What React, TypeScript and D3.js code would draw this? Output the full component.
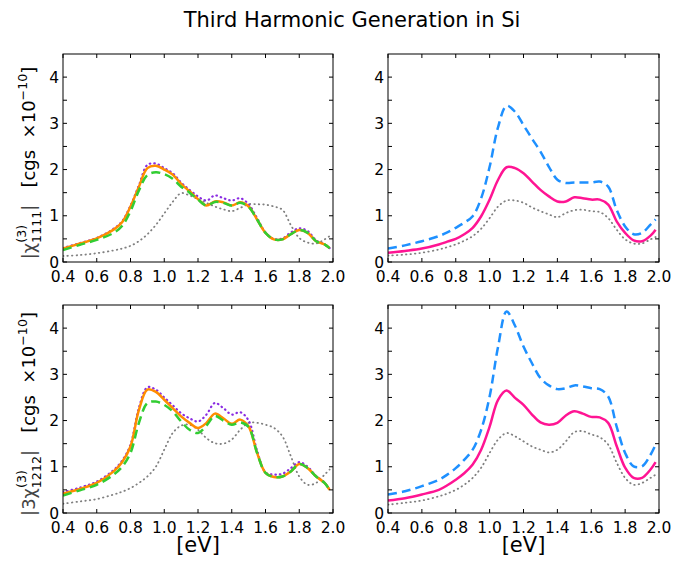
import React from "react";
import * as d3 from "d3";

const W = 688;
const H = 561;

// photon energy grid [eV]
const energy = [0.4, 0.5, 0.6, 0.7, 0.75, 0.8, 0.85, 0.9, 0.95, 1.0, 1.05, 1.1, 1.15, 1.2, 1.25, 1.3, 1.35, 1.4, 1.45, 1.5, 1.55, 1.6, 1.65, 1.7, 1.75, 1.8, 1.85, 1.9, 1.95, 1.98];

// |chi1111| (left top)
const xxxxPurple = [0.3, 0.41, 0.52, 0.72, 0.88, 1.22, 1.66, 2.1, 2.13, 2.03, 1.92, 1.72, 1.56, 1.42, 1.33, 1.44, 1.38, 1.33, 1.38, 1.25, 0.95, 0.64, 0.5, 0.51, 0.64, 0.73, 0.67, 0.47, 0.38, 0.3];
const xxxxOrange = [0.29, 0.4, 0.51, 0.7, 0.86, 1.2, 1.63, 2.03, 2.08, 2.0, 1.89, 1.69, 1.53, 1.36, 1.22, 1.31, 1.29, 1.22, 1.29, 1.2, 0.92, 0.63, 0.49, 0.49, 0.6, 0.69, 0.63, 0.45, 0.38, 0.3];
const xxxxGreen = [0.26, 0.37, 0.48, 0.63, 0.78, 1.1, 1.55, 1.88, 1.94, 1.9, 1.8, 1.63, 1.5, 1.35, 1.22, 1.3, 1.28, 1.22, 1.28, 1.19, 0.92, 0.63, 0.49, 0.49, 0.6, 0.69, 0.63, 0.45, 0.38, 0.3];
const xxxxGray = [0.13, 0.15, 0.19, 0.25, 0.29, 0.35, 0.45, 0.6, 0.8, 1.05, 1.3, 1.49, 1.44, 1.36, 1.28, 1.2, 1.14, 1.1, 1.17, 1.25, 1.25, 1.24, 1.2, 1.13, 0.8, 0.52, 0.42, 0.4, 0.49, 0.56];

// |chi1111| (right top)
const xxxxBlue = [0.29, 0.36, 0.45, 0.56, 0.64, 0.74, 0.85, 0.99, 1.38, 2.06, 2.92, 3.38, 3.25, 2.96, 2.67, 2.39, 2.06, 1.78, 1.71, 1.72, 1.72, 1.72, 1.74, 1.63, 1.13, 0.77, 0.6, 0.63, 0.81, 0.92];
const xxxxPink = [0.2, 0.24, 0.29, 0.38, 0.44, 0.5, 0.6, 0.74, 0.99, 1.35, 1.78, 2.05, 2.03, 1.92, 1.74, 1.56, 1.42, 1.31, 1.31, 1.4, 1.38, 1.35, 1.35, 1.24, 0.88, 0.63, 0.47, 0.45, 0.57, 0.7];
const xxxxGrayR = [0.14, 0.16, 0.2, 0.27, 0.32, 0.38, 0.46, 0.56, 0.72, 0.95, 1.2, 1.33, 1.33, 1.28, 1.18, 1.1, 1.03, 0.97, 1.06, 1.12, 1.13, 1.1, 1.08, 0.95, 0.7, 0.49, 0.4, 0.4, 0.49, 0.54];

// |3chi1212| (left bottom)
const xyxyPurple = [0.45, 0.55, 0.68, 0.93, 1.13, 1.48, 2.28, 2.72, 2.67, 2.5, 2.33, 2.16, 2.05, 1.98, 2.13, 2.38, 2.27, 2.13, 2.18, 2.0, 1.35, 0.88, 0.83, 0.85, 0.97, 1.1, 1.0, 0.8, 0.66, 0.5];
const xyxyOrange = [0.42, 0.52, 0.65, 0.9, 1.1, 1.44, 2.23, 2.67, 2.62, 2.45, 2.27, 2.09, 1.95, 1.84, 1.95, 2.15, 2.05, 1.93, 2.02, 1.87, 1.3, 0.87, 0.78, 0.79, 0.9, 1.06, 0.97, 0.79, 0.65, 0.5];
const xyxyGreen = [0.38, 0.49, 0.61, 0.83, 1.0, 1.3, 1.95, 2.38, 2.41, 2.34, 2.2, 1.98, 1.8, 1.73, 1.89, 2.1, 2.0, 1.91, 1.96, 1.86, 1.3, 0.87, 0.78, 0.79, 0.9, 1.06, 0.97, 0.79, 0.65, 0.5];
const xyxyGray = [0.2, 0.25, 0.3, 0.4, 0.46, 0.54, 0.65, 0.79, 1.0, 1.37, 1.73, 1.89, 1.91, 1.8, 1.62, 1.51, 1.5, 1.59, 1.8, 1.95, 1.95, 1.91, 1.84, 1.66, 1.23, 0.79, 0.61, 0.65, 0.83, 0.94];

// |3chi1212| (right bottom)
const xyxyBlue = [0.4, 0.47, 0.58, 0.72, 0.83, 0.97, 1.15, 1.37, 1.8, 2.52, 3.6, 4.36, 4.05, 3.6, 3.24, 2.92, 2.76, 2.68, 2.7, 2.76, 2.74, 2.7, 2.68, 2.52, 1.87, 1.3, 1.01, 1.01, 1.26, 1.48];
const xyxyPink = [0.27, 0.32, 0.4, 0.5, 0.6, 0.72, 0.86, 1.05, 1.37, 1.87, 2.45, 2.65, 2.49, 2.34, 2.13, 1.96, 1.91, 1.95, 2.11, 2.2, 2.15, 2.08, 2.07, 1.95, 1.45, 0.98, 0.76, 0.76, 0.94, 1.1];
const xyxyGrayR = [0.18, 0.22, 0.27, 0.36, 0.42, 0.5, 0.61, 0.76, 0.98, 1.3, 1.59, 1.73, 1.66, 1.55, 1.44, 1.37, 1.31, 1.37, 1.55, 1.75, 1.77, 1.7, 1.64, 1.48, 1.09, 0.76, 0.61, 0.65, 0.76, 0.83];

const xTicks = [0.4, 0.6, 0.8, 1.0, 1.2, 1.4, 1.6, 1.8, 2.0];
const yTicks = [0, 0.5, 1, 1.5, 2, 2.5, 3, 3.5, 4];

const FONT = "DejaVu Sans, sans-serif";

const STYLES = {
  purple: { color: "#8a2be2", width: 2.2, dash: "0.5,4", cap: "round" },
  orange: { color: "#ff8c00", width: 2.5, dash: null, cap: "butt" },
  green: { color: "#32cd32", width: 2.5, dash: "9,5", cap: "butt" },
  gray: { color: "#808080", width: 1.8, dash: "0.5,4", cap: "round" },
  blue: { color: "#1e90ff", width: 2.5, dash: "9,5", cap: "butt" },
  pink: { color: "#ff1493", width: 2.5, dash: null, cap: "butt" },
};

const panels = [
  { left: 63, top: 54, right: 333, bottom: 262, series: [["gray", xxxxGray], ["purple", xxxxPurple], ["orange", xxxxOrange], ["green", xxxxGreen]], ylab: "1111", pre: "", xlab: false },
  { left: 388, top: 54, right: 659, bottom: 262, series: [["gray", xxxxGrayR], ["blue", xxxxBlue], ["pink", xxxxPink]], ylab: null, pre: "", xlab: false },
  { left: 63, top: 305, right: 333, bottom: 513, series: [["gray", xyxyGray], ["purple", xyxyPurple], ["orange", xyxyOrange], ["green", xyxyGreen]], ylab: "1212", pre: "3", xlab: true },
  { left: 388, top: 305, right: 659, bottom: 513, series: [["gray", xyxyGrayR], ["blue", xyxyBlue], ["pink", xyxyPink]], ylab: null, pre: "", xlab: true },
];

const Panel = ({ p, idx }) => {
  const x = d3.scaleLinear().domain([0.4, 2.0]).range([p.left, p.right]);
  const y = d3.scaleLinear().domain([0, 4.5]).range([p.bottom, p.top]);
  const line = d3
    .line()
    .x((d) => x(d[0]))
    .y((d) => y(d[1]))
    .curve(d3.curveCatmullRom.alpha(0.5));
  const cx = (p.left + p.right) / 2;
  const cy = (p.top + p.bottom) / 2;
  return (
    <g>
      <defs>
        <clipPath id={`clip-${idx}`}>
          <rect x={p.left} y={p.top} width={p.right - p.left} height={p.bottom - p.top} />
        </clipPath>
      </defs>
      <g clipPath={`url(#clip-${idx})`}>
        {p.series.map(([key, vals], i) => {
          const s = STYLES[key];
          return (
            <path
              key={i}
              d={line(energy.map((e, j) => [e, vals[j]]))}
              fill="none"
              stroke={s.color}
              strokeWidth={s.width}
              strokeDasharray={s.dash || undefined}
              strokeLinecap={s.cap}
              strokeLinejoin="round"
            />
          );
        })}
      </g>
      <rect x={p.left} y={p.top} width={p.right - p.left} height={p.bottom - p.top} fill="none" stroke="#000" strokeWidth={1} />
      {xTicks.map((t) => (
        <g key={"x" + t}>
          <line x1={x(t)} x2={x(t)} y1={p.bottom} y2={p.bottom - 4} stroke="#000" />
          <line x1={x(t)} x2={x(t)} y1={p.top} y2={p.top + 4} stroke="#000" />
          <text x={x(t)} y={p.bottom + 20} textAnchor="middle" fontSize={15.5} fontFamily={FONT}>
            {t.toFixed(1)}
          </text>
        </g>
      ))}
      {yTicks.map((t) => (
        <g key={"y" + t}>
          <line x1={p.left} x2={p.left + 4} y1={y(t)} y2={y(t)} stroke="#000" />
          <line x1={p.right} x2={p.right - 4} y1={y(t)} y2={y(t)} stroke="#000" />
          {Number.isInteger(t) && (
            <text x={p.left - 4} y={y(t) + 5.5} textAnchor="end" fontSize={15.5} fontFamily={FONT}>
              {t}
            </text>
          )}
        </g>
      ))}
      {p.ylab && (
        <text
          transform={`translate(${35},${cy + 5}) rotate(-90)`}
          textAnchor="middle"
          fontSize={18}
          fontFamily={FONT}
          style={{ whiteSpace: "pre" }}
        >
          <tspan fill="#444">|{p.pre}χ</tspan>
          <tspan fontSize={12.6} dy={-9}>(3)</tspan>
          <tspan fontSize={12.6} dx={-18} dy={15}>{p.ylab}</tspan>
          <tspan fill="#444" dy={-6}>|</tspan>
          <tspan>{"   [cgs  ×10"}</tspan>
          <tspan fontSize={12.6} dy={-8}>−10</tspan>
          <tspan dy={8}>]</tspan>
        </text>
      )}
      {p.xlab && (
        <text x={cx} y={552} textAnchor="middle" fontSize={21} fontFamily={FONT}>
          [eV]
        </text>
      )}
    </g>
  );
};

export default function App() {
  return (
    <svg width={W} height={H} style={{ position: "absolute", left: 0, top: 0, background: "#fff" }}>
      <rect width={W} height={H} fill="#fff" />
      <text x={352} y={27} textAnchor="middle" fontSize={21} fontFamily={FONT}>
        Third Harmonic Generation in Si
      </text>
      {panels.map((p, i) => (
        <Panel key={i} p={p} idx={i} />
      ))}
    </svg>
  );
}
